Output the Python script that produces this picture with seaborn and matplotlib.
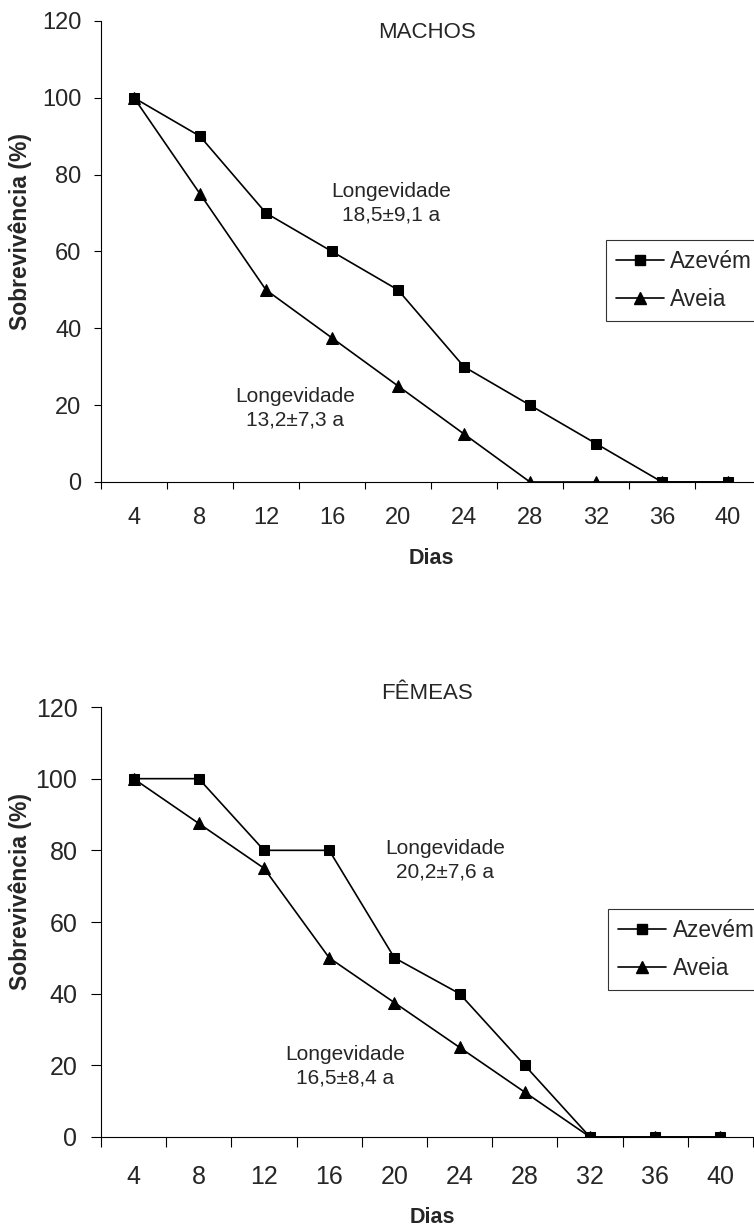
import matplotlib
matplotlib.use("Agg")
import matplotlib.pyplot as plt
import seaborn as sns
import numpy as np
from matplotlib.lines import Line2D

sns.set_theme(style="white")
plt.rcParams['font.family'] = ['Liberation Sans', 'DejaVu Sans']

dias = ["4", "8", "12", "16", "20", "24", "28", "32", "36", "40"]
machos_azevem = [100, 90, 70, 60, 50, 30, 20, 10, 0, 0]
machos_aveia = [100, 75, 50, 37.5, 25, 12.5, 0, 0, 0, 0]
femeas_azevem = [100, 100, 80, 80, 50, 40, 20, 0, 0, 0]
femeas_aveia = [100, 87.5, 75, 50, 37.5, 25, 12.5, 0, 0, 0]
yticks = [0, 20, 40, 60, 80, 100, 120]

fig = plt.figure(figsize=(7.54, 12.28), dpi=100)
W, H = 754, 1228

def axes_px(left, right, top, bottom):
    return fig.add_axes([left / W, 1 - bottom / H, (right - left) / W, (bottom - top) / H])

ax1 = axes_px(101, 761, 21, 482)
ax2 = axes_px(101, 753, 707, 1137)

panels = [
    dict(ax=ax1, az=machos_azevem, av=machos_aveia, title="MACHOS", title_xy=(4.44, 116.9),
         notes=[("Longevidade\n18,5±9,1 a", 3.9, 72.5), ("Longevidade\n13,2±7,3 a", 2.44, 19.3)],
         legpos=(0.765, 0.525), tickfs=17, xpad=18, ypad=9, ticklen=5,
         ylab=(-0.123, 0.544), xlab=(0.50, -0.165)),
    dict(ax=ax2, az=femeas_azevem, av=femeas_aveia, title="FÊMEAS", title_xy=(4.5, 123.9),
         notes=[("Longevidade\n20,2±7,6 a", 4.78, 77.3), ("Longevidade\n16,5±8,4 a", 3.24, 19.8)],
         legpos=(0.778, 0.530), tickfs=18, xpad=20, ypad=10, ticklen=7,
         ylab=(-0.124, 0.572), xlab=(0.508, -0.188)),
]

x = np.arange(len(dias))
for p in panels:
    ax = p["ax"]
    sns.lineplot(x=x, y=p["av"], ax=ax, color="black", marker="^", markersize=9,
                 markeredgecolor="black", linewidth=1.2, zorder=3)
    sns.lineplot(x=x, y=p["az"], ax=ax, color="black", marker="s", markersize=7.5,
                 markeredgecolor="black", linewidth=1.2, zorder=4)
    ax.set_xlim(-0.5, len(dias) - 0.5)
    ax.set_ylim(0, 120)
    ax.set_yticks(yticks)
    ax.set_xticks(x)
    ax.set_xticklabels(dias)
    ax.set_xticks(np.arange(-0.5, len(dias)), minor=True)
    ax.tick_params(axis="x", which="major", length=0, pad=p["xpad"], labelsize=p["tickfs"])
    ax.tick_params(axis="x", which="minor", length=p["ticklen"], width=0.8, color="black",
                   direction="out", bottom=True)
    ax.tick_params(axis="y", length=p["ticklen"], width=0.8, color="black", direction="out",
                   left=True, labelsize=p["tickfs"], pad=p["ypad"])
    for s in ["top", "right"]:
        ax.spines[s].set_visible(False)
    for s in ["left", "bottom"]:
        ax.spines[s].set_color("black")
        ax.spines[s].set_linewidth(0.8)
    ax.set_xlabel("Dias", fontsize=15.5, fontweight="bold")
    ax.set_ylabel("Sobrevivência (%)", fontsize=16.5, fontweight="bold")
    ax.xaxis.set_label_coords(*p["xlab"])
    ax.xaxis.label.set_va("center")
    ax.yaxis.set_label_coords(*p["ylab"])
    ax.yaxis.label.set_va("center")
    ax.text(*p["title_xy"], p["title"], ha="center", va="center", fontsize=16, clip_on=False)
    for t, tx, ty in p["notes"]:
        ax.text(tx, ty, t, ha="center", va="center", fontsize=15, linespacing=1.3)
    handles = [
        Line2D([0], [0], color="black", marker="s", markersize=7, linewidth=1.2),
        Line2D([0], [0], color="black", marker="^", markersize=8, linewidth=1.2),
    ]
    leg = ax.legend(handles, ["Azevém", "Aveia"], loc="upper left", bbox_to_anchor=p["legpos"],
                    frameon=True, fancybox=False, edgecolor="black", fontsize=16.3,
                    handlelength=2.1, handletextpad=0.3, borderpad=0.45, labelspacing=0.65,
                    borderaxespad=0)
    leg.get_frame().set_linewidth(0.8)
    leg.set_zorder(10)

fig.savefig("out.png", dpi=100)
